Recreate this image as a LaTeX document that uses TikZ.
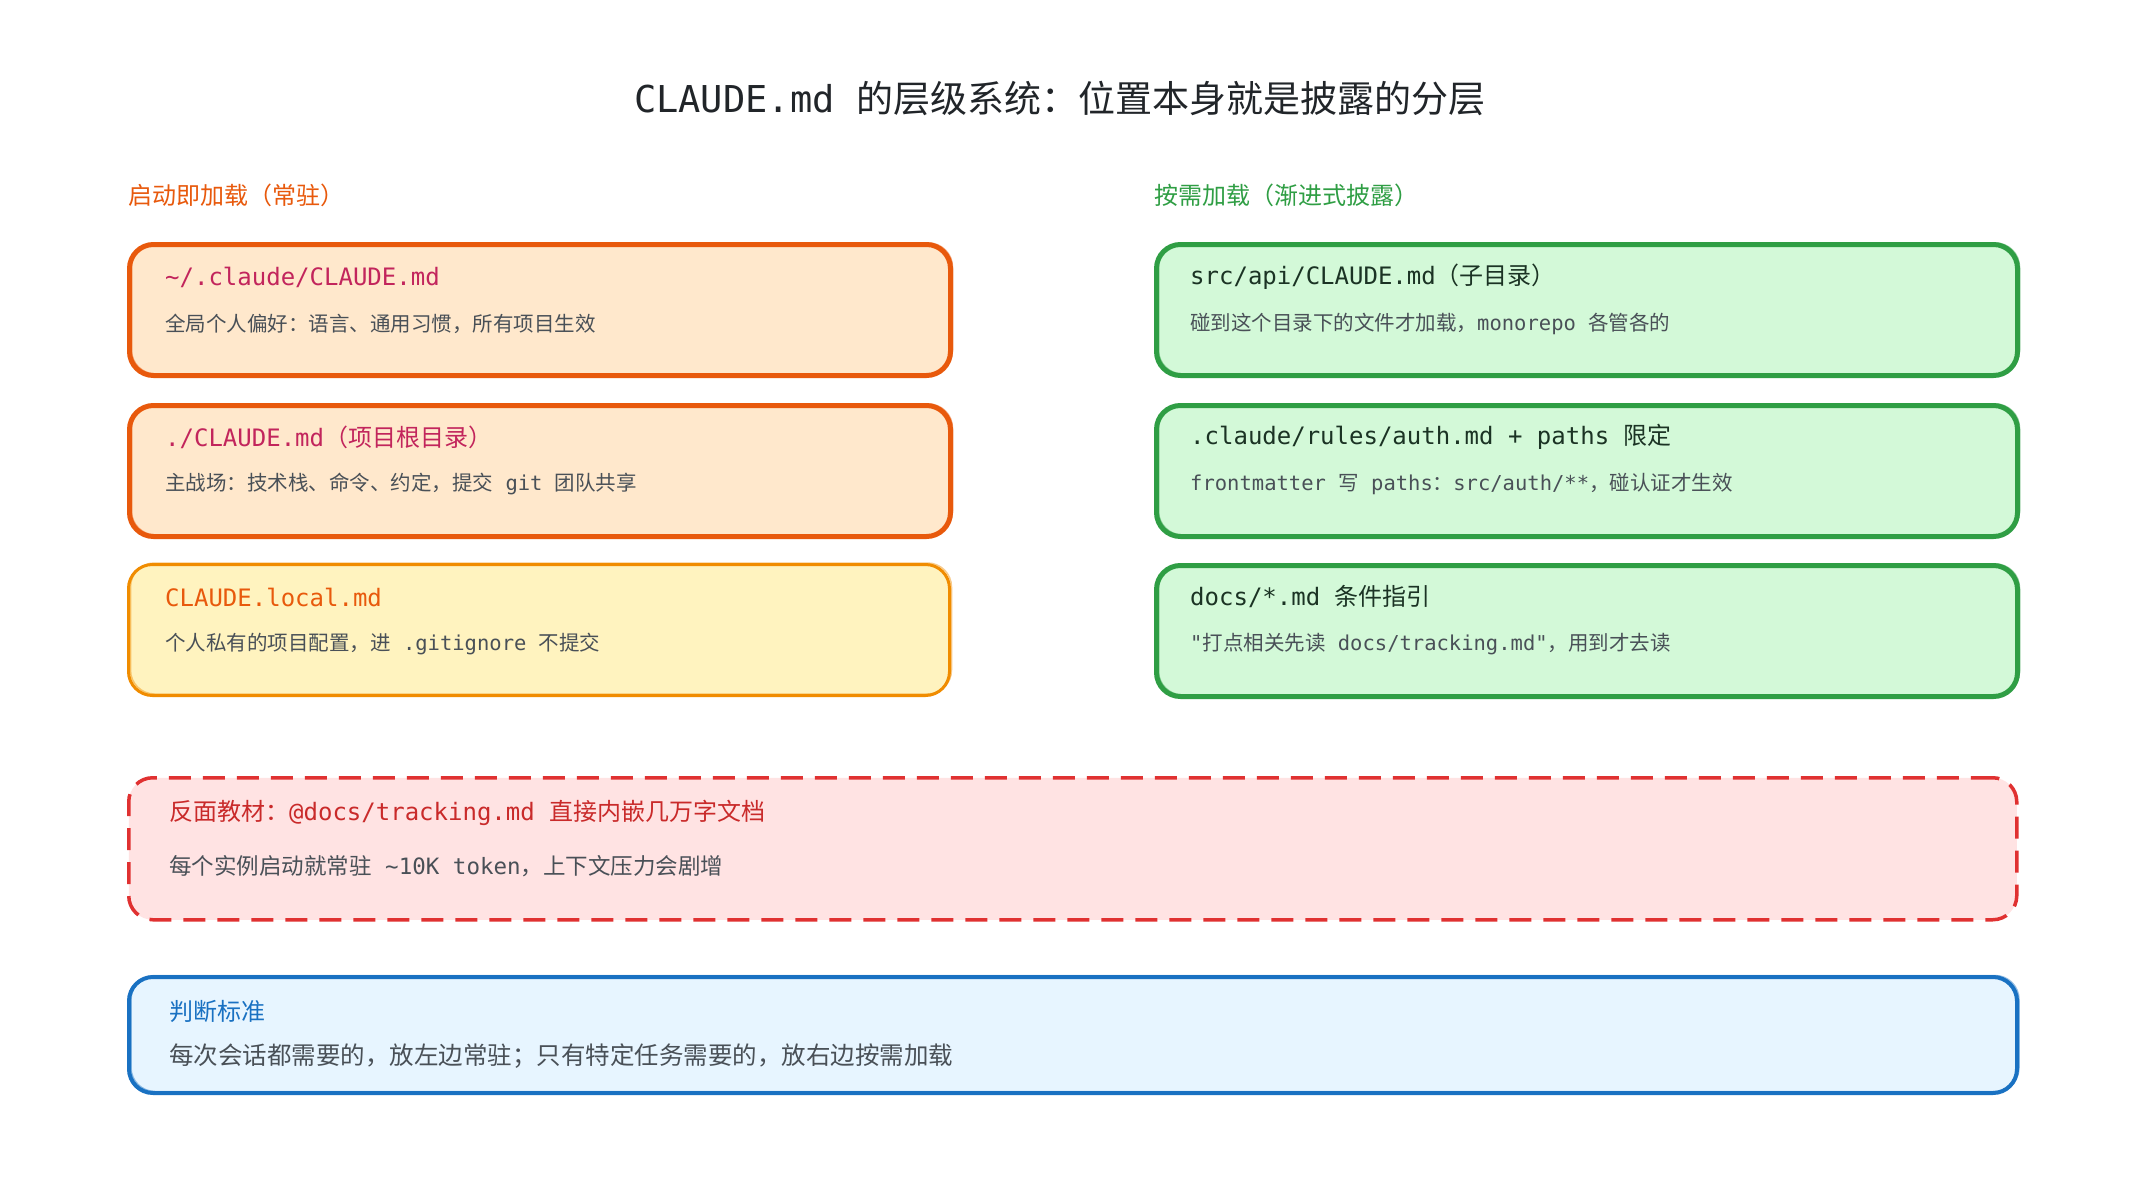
\documentclass[tikz,border=0pt]{standalone}
\usepackage{fontspec}
\setmainfont{Noto Sans CJK SC}
\newfontfamily\monofont{DejaVu Sans Mono}
\usetikzlibrary{positioning}

\definecolor{inkdark}{HTML}{212529}
\definecolor{inkgray}{HTML}{495057}
\definecolor{orgline}{HTML}{E8590C}
\definecolor{orgfill}{HTML}{FFE8CC}
\definecolor{ambline}{HTML}{F08C00}
\definecolor{ambfill}{HTML}{FFF3BF}
\definecolor{grnline}{HTML}{2F9E44}
\definecolor{grnfill}{HTML}{D3F9D8}
\definecolor{grnink}{HTML}{1B3324}
\definecolor{redline}{HTML}{E03131}
\definecolor{redfill}{HTML}{FFE3E3}
\definecolor{redink}{HTML}{C92A2A}
\definecolor{bluline}{HTML}{1971C2}
\definecolor{blufill}{HTML}{E7F5FF}
\definecolor{pinkink}{HTML}{C2255C}

\tikzset{
    card/.style={draw, rounded corners=24pt, anchor=north west, inner sep=0pt},
    sketchy/.style={postaction={draw=#1, line width=1.5pt, opacity=0.45,
        transform canvas={shift={(2pt,1.5pt)}}}},
    halfcard/.style={card, minimum width=821pt, minimum height=131pt},
    widecard/.style={card, minimum width=1888pt},
    cardhead/.style={anchor=west, inner sep=0pt, font=\fontsize{24pt}{28pt}\selectfont},
    cardnote/.style={anchor=west, inner sep=0pt, text=inkgray, font=\fontsize{20.5pt}{24pt}\selectfont},
    colhead/.style={anchor=west, inner sep=0pt, font=\fontsize{24pt}{28pt}\selectfont},
}

\begin{document}
\begin{tikzpicture}[x=1pt, y=-1pt]
    \useasboundingbox[fill=white] (0,0) rectangle (2136,1180);

    % Title
    \node[inner sep=0pt, text=inkdark, font=\fontsize{37pt}{40pt}\selectfont] (title) at (1060,98)
        {{\monofont CLAUDE.md }的层级系统：位置本身就是披露的分层};

    % Column headers
    \node[colhead, text=orgline] (lefthead) at (128,195) {启动即加载（常驻）};
    \node[colhead, text=grnline] (righthead) at (1154,195) {按需加载（渐进式披露）};

    % Left column: always loaded
    \node[halfcard, line width=5pt, draw=orgline, fill=orgfill, sketchy=orgline] (home) at (127,242) {};
    \node[halfcard, line width=5pt, draw=orgline, fill=orgfill, sketchy=orgline] (root) at (127,403) {};
    \node[halfcard, line width=3pt, draw=ambline, fill=ambfill, sketchy=ambline] (local) at (127,563) {};

    \node[cardhead, text=pinkink] (homet) at ([xshift=38pt, yshift=-35pt]home.north west)
        {\monofont \string~/.claude/CLAUDE.md};
    \node[cardnote] (homen) at ([xshift=38pt, yshift=-82pt]home.north west)
        {全局个人偏好：语言、通用习惯，所有项目生效};
    \node[cardhead, text=pinkink] (roott) at ([xshift=38pt, yshift=-34pt]root.north west)
        {{\monofont ./CLAUDE.md}（项目根目录）};
    \node[cardnote] (rootn) at ([xshift=38pt, yshift=-81pt]root.north west)
        {主战场：技术栈、命令、约定，提交{\monofont{} git }团队共享};
    \node[cardhead, text=orgline] (localt) at ([xshift=38pt, yshift=-34pt]local.north west)
        {\monofont CLAUDE.local.md};
    \node[cardnote] (localn) at ([xshift=38pt, yshift=-81pt]local.north west)
        {个人私有的项目配置，进{\monofont{} .gitignore }不提交};

    % Right column: loaded on demand
    \node[halfcard, minimum width=861pt, line width=5pt, draw=grnline, fill=grnfill, sketchy=grnline] (sub) at (1154,242) {};
    \node[halfcard, minimum width=861pt, line width=5pt, draw=grnline, fill=grnfill, sketchy=grnline] (rules) at (1154,403) {};
    \node[halfcard, minimum width=861pt, line width=5pt, draw=grnline, fill=grnfill, sketchy=grnline] (docs) at (1154,563) {};

    \node[cardhead, text=grnink] (subt) at ([xshift=36pt, yshift=-35pt]sub.north west)
        {{\monofont src/api/CLAUDE.md}（子目录）};
    \node[cardnote] (subn) at ([xshift=36pt, yshift=-82pt]sub.north west)
        {碰到这个目录下的文件才加载，{\monofont monorepo }各管各的};
    \node[cardhead, text=grnink] (rulest) at ([xshift=36pt, yshift=-34pt]rules.north west)
        {{\monofont .claude/rules/auth.md + paths }限定};
    \node[cardnote] (rulesn) at ([xshift=36pt, yshift=-81pt]rules.north west)
        {{\monofont frontmatter }写{\monofont{} paths}：{\monofont src/auth/**}，碰认证才生效};
    \node[cardhead, text=grnink] (docst) at ([xshift=36pt, yshift=-34pt]docs.north west)
        {{\monofont docs/*.md }条件指引};
    \node[cardnote] (docsn) at ([xshift=36pt, yshift=-81pt]docs.north west)
        {{\monofont "}打点相关先读{\monofont{} docs/tracking.md"}，用到才去读};

    % Counter-example
    \node[widecard, minimum height=142pt, line width=3.5pt, dash pattern=on 22pt off 12pt,
        draw=redline, fill=redfill] (anti) at (127,776) {};
    \node[cardhead, text=redink] (antit) at ([xshift=42pt, yshift=-37pt]anti.north west)
        {反面教材：{\monofont @docs/tracking.md }直接内嵌几万字文档};
    \node[cardnote, font=\fontsize{22.5pt}{26pt}\selectfont] (antin) at ([xshift=42pt, yshift=-90pt]anti.north west)
        {每个实例启动就常驻{\monofont{} \string~10K token}，上下文压力会剧增};

    % Rule of thumb
    \node[widecard, minimum height=116pt, line width=4pt, draw=bluline, fill=blufill, sketchy=bluline] (rule) at (127,975) {};
    \node[cardhead, text=bluline] (rulet) at ([xshift=42pt, yshift=-36pt]rule.north west) {判断标准};
    \node[cardnote, font=\fontsize{24.5pt}{28pt}\selectfont] (rulen) at ([xshift=42pt, yshift=-81pt]rule.north west)
        {每次会话都需要的，放左边常驻；只有特定任务需要的，放右边按需加载};

\end{tikzpicture}
\end{document}
